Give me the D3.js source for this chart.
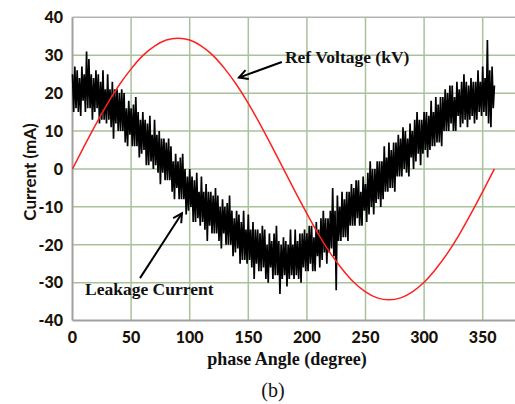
<!DOCTYPE html>
<html>
<head>
<meta charset="utf-8">
<script src="https://cdn.jsdelivr.net/npm/d3@7"></script>
<style>
  body { margin: 0; background: #fff; }
  .tick-label { font-family: Lato, "Noto Sans", sans-serif; font-weight: 900; font-size: 16px; fill: #1a1208; }
  .axis-title { font-family: Lato, "Noto Sans", sans-serif; font-weight: bold; font-size: 17px; fill: #1a1208; }
  .note { font-family: "Liberation Serif", "DejaVu Serif", serif; font-weight: bold; font-size: 17.5px; fill: #111; }
</style>
</head>
<body>
<svg id="chart" width="515" height="404"></svg>
<script>
// phase angle ticks
const xTicks = [0, 50, 100, 150, 200, 250, 300, 350];
const yTicks = [-40, -30, -20, -10, 0, 10, 20, 30, 40];

// reference voltage, every 10 degrees from 0 to 360
const voltAngles = d3.range(0, 361, 10);
const voltage = [0, 6.0, 11.8, 17.3, 22.2, 26.4, 29.9, 32.4, 34.0, 34.5,
  34.0, 32.4, 29.9, 26.4, 22.2, 17.3, 11.8, 6.0, 0, -6.0,
  -11.8, -17.3, -22.2, -26.4, -29.9, -32.4, -34.0, -34.5, -34.0, -32.4,
  -29.9, -26.4, -22.2, -17.3, -11.8, -6.0, 0];

// leakage current, one value per degree 0..360
const leakage = [
  25,15,27,16,26,15,24,14,27,18,
  25,15,31,16,29,16,25,13,24,15,
  26,16,25,12,23,13,26,13,21,12,
  25,13,21,11,23,8,21,12,21,10,
  20,10,21,10,20,7,16,6,18,9,
  16,6,17,6,19,6,15,3,13,4,
  15,5,13,1,12,1,14,2,9,0,
  13,1,9,-1,10,-4,8,-1,8,-3,
  7,-3,8,-3,6,-6,2,-8,4,-5,
  2,-8,3,-8,4,-8,0,-12,-2,-11,
  0,-10,-2,-14,-3,-14,-1,-13,-6,-15,
  -2,-14,-6,-16,-4,-19,-6,-15,-6,-17,
  -7,-17,-5,-17,-7,-19,-10,-21,-8,-17,
  -10,-20,-9,-20,-7,-20,-11,-23,-13,-22,
  -11,-21,-12,-25,-14,-24,-11,-24,-16,-25,
  -12,-24,-16,-26,-14,-29,-16,-25,-16,-27,
  -17,-27,-15,-26,-16,-29,-20,-30,-17,-26,
  -19,-29,-17,-28,-15,-28,-19,-33,-20,-29,
  -18,-28,-19,-31,-20,-29,-16,-28,-20,-29,
  -16,-28,-19,-29,-17,-30,-17,-26,-16,-27,
  -17,-27,-15,-25,-15,-27,-18,-27,-14,-23,
  -16,-26,-13,-24,-11,-22,-13,-25,-13,-22,
  -11,-21,-5,-23,-11,-32,-7,-19,-10,-19,
  -6,-18,-8,-18,-6,-19,-6,-15,-4,-15,
  -5,-15,-3,-13,-3,-15,-6,-15,-2,-11,
  -4,-14,-1,-12,2,-10,0,-12,0,-9,
  2,-8,2,-10,2,-8,6,-6,3,-6,
  7,-5,5,-5,7,-6,7,-2,9,-2,
  8,-2,11,0,10,-1,8,-2,12,3,
  10,0,13,2,15,4,13,1,13,4,
  15,5,15,3,14,5,18,6,15,6,
  19,7,17,7,19,6,19,10,21,10,
  20,10,22,12,22,10,19,10,23,14,
  21,11,23,12,25,13,23,11,22,13,
  24,14,23,12,23,13,26,15,23,14,
  27,15,24,14,34,12,26,11,27,16,
  22
];

const svg = d3.select("#chart");
const width = +svg.attr("width");

const x = d3.scaleLinear().domain([0, 350]).range([72.5, 482.7]);
const y = d3.scaleLinear().domain([-40, 40]).range([320.6, 17.3]);
const plotRight = width;

// grid
const grid = svg.append("g");
grid.selectAll("line.h")
  .data(yTicks.filter(d => d > -40 && d < 40))
  .join("line")
    .attr("x1", x(0)).attr("x2", plotRight)
    .attr("y1", d => y(d)).attr("y2", d => y(d))
    .attr("stroke", "#a8c29c").attr("stroke-width", 1.5);
grid.selectAll("line.v")
  .data(xTicks.filter(d => d > 0))
  .join("line")
    .attr("x1", d => x(d)).attr("x2", d => x(d))
    .attr("y1", y(40)).attr("y2", y(-40))
    .attr("stroke", "#a8c29c").attr("stroke-width", 1.5);

// frame
svg.append("line").attr("x1", x(0)).attr("x2", plotRight).attr("y1", y(40)).attr("y2", y(40))
  .attr("stroke", "#b4b4b4").attr("stroke-width", 1.5);
svg.append("line").attr("x1", x(0)).attr("x2", plotRight).attr("y1", y(-40)).attr("y2", y(-40))
  .attr("stroke", "#a0a0a0").attr("stroke-width", 2);
svg.append("line").attr("x1", x(0)).attr("x2", x(0)).attr("y1", y(40)).attr("y2", y(-40))
  .attr("stroke", "#a0a0a0").attr("stroke-width", 2);

// tick labels
svg.append("g").selectAll("text")
  .data(yTicks)
  .join("text")
    .attr("class", "tick-label")
    .attr("x", 63)
    .attr("y", d => y(d))
    .attr("dy", "0.36em")
    .attr("text-anchor", "end")
    .text(d => d);
svg.append("g").selectAll("text")
  .data(xTicks)
  .join("text")
    .attr("class", "tick-label")
    .attr("x", d => x(d))
    .attr("y", 343)
    .attr("text-anchor", "middle")
    .text(d => d);

// axis titles
svg.append("text")
  .attr("class", "axis-title")
  .attr("transform", "translate(36,172) rotate(-90)")
  .attr("text-anchor", "middle")
  .text("Current (mA)");
svg.append("text")
  .attr("class", "note")
  .style("font-size", "18px")
  .attr("x", 287).attr("y", 365)
  .attr("text-anchor", "middle")
  .text("phase Angle (degree)");
svg.append("text")
  .attr("x", 273).attr("y", 397)
  .attr("text-anchor", "middle")
  .style("font-family", "'Liberation Serif', serif")
  .style("font-size", "20px")
  .attr("fill", "#111")
  .text("(b)");

// leakage current trace
svg.append("path")
  .datum(leakage)
  .attr("fill", "none")
  .attr("stroke", "#000")
  .attr("stroke-width", 1.7)
  .attr("d", d3.line().x((d, i) => x(i)).y(d => y(d)));

// reference voltage
svg.append("path")
  .datum(voltage)
  .attr("fill", "none")
  .attr("stroke", "#ff2020")
  .attr("stroke-width", 1.5)
  .attr("d", d3.line().curve(d3.curveNatural).x((d, i) => x(voltAngles[i])).y(d => y(d)));

// annotations with arrows
function arrow(from, to) {
  const x1 = x(from[0]), y1 = y(from[1]), x2 = x(to[0]), y2 = y(to[1]);
  const a = Math.atan2(y2 - y1, x2 - x1);
  const len = 10, spread = 0.5;
  svg.append("line")
    .attr("x1", x1).attr("y1", y1).attr("x2", x2).attr("y2", y2)
    .attr("stroke", "#000").attr("stroke-width", 2);
  svg.append("path")
    .attr("fill", "none").attr("stroke", "#000").attr("stroke-width", 2)
    .attr("d", `M${x2 - len * Math.cos(a - spread)},${y2 - len * Math.sin(a - spread)}L${x2},${y2}L${x2 - len * Math.cos(a + spread)},${y2 - len * Math.sin(a + spread)}`);
}

svg.append("text").attr("class", "note")
  .attr("x", x(181.3)).attr("y", y(28))
  .text("Ref Voltage (kV)");
arrow([178.6, 28.2], [142, 24.1]);

svg.append("text").attr("class", "note")
  .attr("x", x(10.7)).attr("y", y(-33.2))
  .text("Leakage Current");
arrow([57.6, -28.8], [93.4, -11.7]);
</script>
</body>
</html>
